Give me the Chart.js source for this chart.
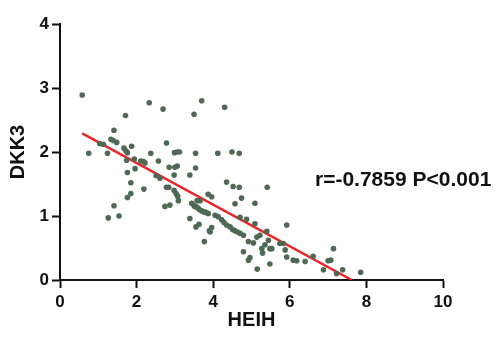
<!DOCTYPE html>
<html>
<head>
<meta charset="utf-8">
<script src="https://cdn.jsdelivr.net/npm/chart.js@4"></script>
<style>
html,body{margin:0;padding:0;background:#fff;}
#wrap{width:495px;height:338px;position:relative;}
</style>
</head>
<body>
<div id="wrap"><canvas id="c" width="495" height="338"></canvas></div>
<script>
const heihValues = [0.58,0.75,2.33,2.69,3.70,3.50,1.71,1.41,1.33,1.39,1.48,1.04,1.13,1.24,1.87,1.67,1.72,1.76,1.74,1.94,2.11,2.18,2.22,2.37,2.57,2.78,2.99,3.06,3.12,3.54,2.85,3.00,3.06,3.54,1.76,1.96,2.98,3.39,2.51,2.61,1.85,2.19,2.78,2.84,
4.30,4.12,4.49,4.68,4.35,4.52,4.68,5.41,
1.85,1.76,1.41,1.26,1.54,2.98,3.03,3.07,3.09,2.74,2.87,3.39,3.44,3.50,3.57,3.64,3.70,3.77,3.83,3.58,3.66,3.87,3.55,3.63,3.90,3.77,
3.96,4.74,4.57,5.09,3.52,3.61,3.79,3.87,4.05,4.13,4.22,4.28,4.35,4.44,4.51,4.57,4.63,4.70,4.79,3.96,3.92,4.70,4.87,5.09,5.92,5.40,5.22,5.14,4.92,5.05,5.44,5.35,5.27,5.48,5.53,4.79,4.96,4.92,5.29,5.48,5.15,5.74,5.83,5.88,5.92,6.09,6.18,6.40,6.61,7.00,7.07,7.14,6.88,7.22,7.38,7.85];
const dkk3Values = [2.89,1.98,2.77,2.67,2.80,2.59,2.57,2.34,2.20,2.18,2.15,2.13,2.12,1.98,2.09,2.06,2.02,1.99,1.87,1.89,1.86,1.85,1.83,1.98,1.86,2.14,1.99,2.00,2.00,1.98,1.76,1.76,1.78,1.75,1.68,1.74,1.64,1.64,1.63,1.59,1.52,1.42,1.45,1.45,
2.70,1.98,2.00,1.98,1.53,1.46,1.45,1.45,
1.35,1.29,1.16,0.97,1.00,1.40,1.35,1.31,1.24,1.15,1.17,0.96,1.20,1.16,1.14,1.10,1.08,1.06,1.05,1.24,1.24,1.34,0.83,0.87,0.77,0.60,
1.30,1.28,1.19,1.20,1.15,1.12,1.06,1.04,1.01,0.99,0.94,0.90,0.86,0.83,0.79,0.77,0.75,0.73,0.70,0.82,0.75,0.98,0.95,0.88,0.86,0.76,0.70,0.67,0.60,0.58,0.62,0.55,0.49,0.49,0.49,0.44,0.35,0.31,0.42,0.25,0.17,0.57,0.57,0.47,0.36,0.31,0.30,0.29,0.37,0.30,0.31,0.49,0.16,0.10,0.16,0.12];
const fitX = [0.58, 7.62];
const fitY = [2.29, 0.0];
const xTicks = [0,2,4,6,8,10];
const yTicks = [0,1,2,3,4];
const annotationText = 'r=-0.7859 P<0.001';

const points = heihValues.map((x,i)=>({x:x,y:dkk3Values[i]}));
const fitLine = fitX.map((x,i)=>({x:x,y:fitY[i]}));

const textPlugin = {
  id:'annot',
  afterDraw(chart){
    const ctx = chart.ctx;
    ctx.save();
    ctx.font = 'bold 21px "Liberation Sans", Arial, sans-serif';
    ctx.fillStyle = '#111';
    ctx.textBaseline = 'middle';
    ctx.textAlign = 'left';
    ctx.fillText(annotationText, 315, 180);
    ctx.restore();
  }
};

const tickFont = {family:'"Liberation Sans", Arial, sans-serif', size:17, weight:'bold'};
const titleFont = {family:'"Liberation Sans", Arial, sans-serif', size:20, weight:'bold'};

new Chart(document.getElementById('c'), {
  type:'scatter',
  data:{
    datasets:[
      {label:'data', data:points, backgroundColor:'#4f6954', borderColor:'#4f6954', pointRadius:2.8, pointHoverRadius:2.8, borderWidth:0},
      {label:'fit', type:'line', data:fitLine, borderColor:'#e8262a', borderWidth:2.5, pointRadius:0, fill:false, showLine:true}
    ]
  },
  options:{
    responsive:false,
    animation:false,
    events:[],
    layout:{padding:{top:24,right:52,bottom:0,left:0}},
    plugins:{legend:{display:false}, tooltip:{enabled:false}},
    scales:{
      x:{
        type:'linear', min:0, max:10,
        afterBuildTicks(s){ s.ticks = xTicks.map(v=>({value:v})); },
        afterFit(s){ s.height = 58; },
        grid:{display:true, drawOnChartArea:false, drawTicks:true, tickLength:8, tickWidth:2, tickColor:'#111'},
        border:{display:true, color:'#111', width:2},
        ticks:{color:'#111', font:tickFont, padding:4, maxRotation:0},
        title:{display:true, text:'HEIH', color:'#111', font:titleFont, padding:{top:0,bottom:6}}
      },
      y:{
        type:'linear', min:0, max:4,
        afterBuildTicks(s){ s.ticks = yTicks.map(v=>({value:v})); },
        afterFit(s){ s.width = 60; },
        grid:{display:true, drawOnChartArea:false, drawTicks:true, tickLength:8, tickWidth:2, tickColor:'#111'},
        border:{display:true, color:'#111', width:2},
        ticks:{color:'#111', font:tickFont, padding:3},
        title:{display:true, text:'DKK3', color:'#111', font:titleFont, padding:{top:6,bottom:0}}
      }
    }
  },
  plugins:[textPlugin]
});
</script>
</body>
</html>
